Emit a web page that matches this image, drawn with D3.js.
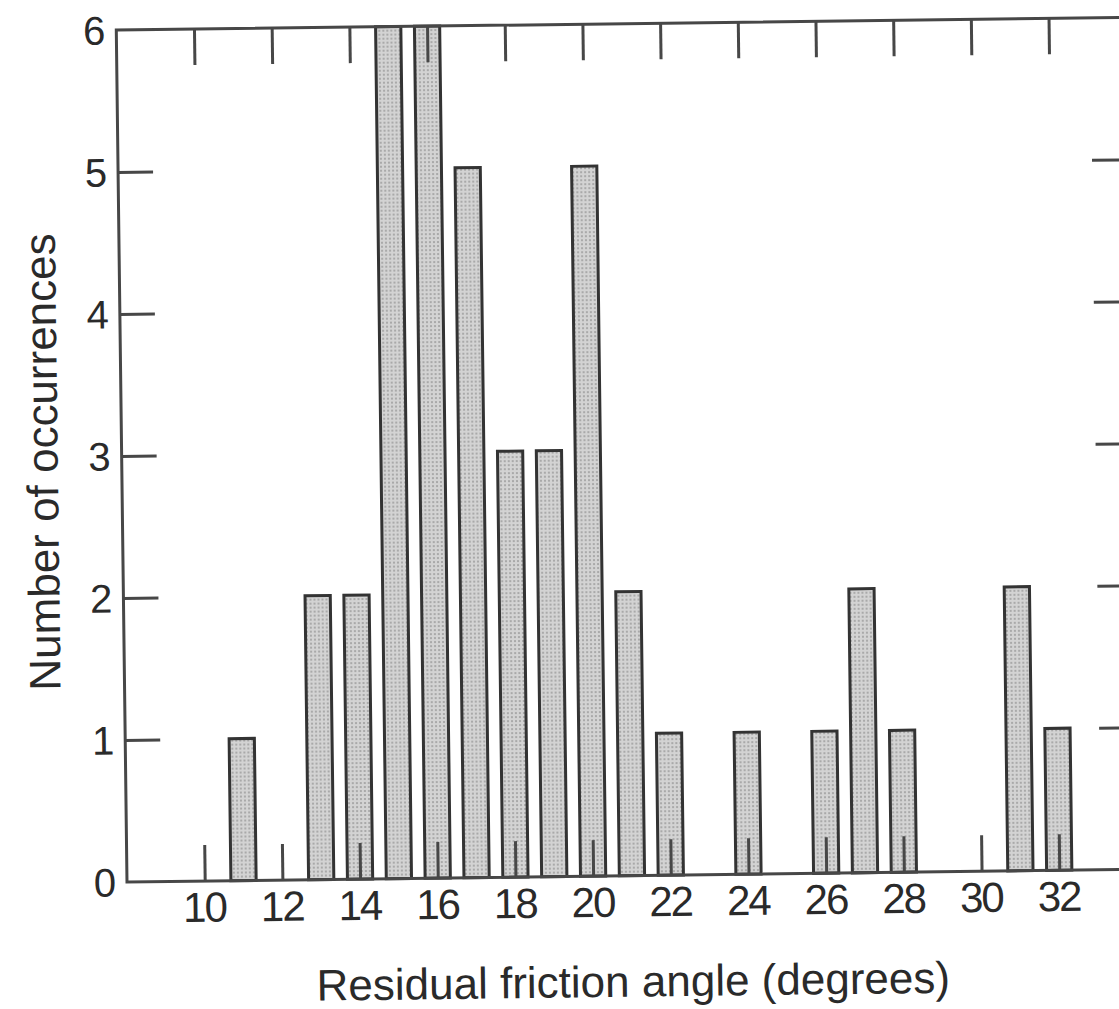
<!DOCTYPE html>
<html>
<head>
<meta charset="utf-8">
<script src="https://cdn.jsdelivr.net/npm/d3@7/dist/d3.min.js"></script>
<style>
  html, body { margin: 0; padding: 0; background: #ffffff; }
  svg { display: block; }
  text { font-family: "Liberation Sans", Arial, Helvetica, sans-serif; fill: #2a2a2a; }
</style>
</head>
<body>
<svg id="chart" width="1119" height="1009"></svg>
<script>
// Histogram of residual friction angles
const angles = [11, 13, 14, 15, 16, 17, 18, 19, 20, 21, 22, 24, 26, 27, 28, 31, 32];
const counts = [1, 2, 2, 6, 6, 5, 3, 3, 5, 2, 1, 1, 1, 2, 1, 2, 1];
const xTickValues = [10, 12, 14, 16, 18, 20, 22, 24, 26, 28, 30, 32];
const yTickValues = [0, 1, 2, 3, 4, 5, 6];
const xTitle = "Residual friction angle (degrees)";
const yTitle = "Number of occurrences";

const bars = angles.map((a, i) => ({ angle: a, count: counts[i] }));

const frame = { left: 127, right: 1137, top: 30, bottom: 882 };
const x = d3.scaleLinear().domain([8, 34]).range([frame.left, frame.right]);
const y = d3.scaleLinear().domain([0, 6]).range([frame.bottom, frame.top]);

const lineColor = "#474747";
const svg = d3.select("#chart");

// stippled grey fill for the bars
const defs = svg.append("defs");
const pat = defs.append("pattern")
  .attr("id", "stipple")
  .attr("patternUnits", "userSpaceOnUse")
  .attr("width", 4).attr("height", 4);
pat.append("rect").attr("width", 4).attr("height", 4).attr("fill", "#d3d3d3");
pat.append("rect").attr("x", 1).attr("y", 1).attr("width", 2).attr("height", 2).attr("fill", "#a9a9a9");

svg.append("rect").attr("width", 1119).attr("height", 1009).attr("fill", "#ffffff");

// the whole figure sits slightly tilted on the page
const g = svg.append("g")
  .attr("transform", `rotate(-0.72, ${frame.left}, ${frame.bottom})`);

// bars
const barW = x(8.65) - x(8);
g.append("g").selectAll("rect")
  .data(bars)
  .join("rect")
  .attr("x", d => x(d.angle) - barW / 2)
  .attr("y", d => y(d.count))
  .attr("width", barW)
  .attr("height", d => y(0) - y(d.count))
  .attr("fill", "url(#stipple)")
  .attr("stroke", "#333333")
  .attr("stroke-width", 3);

// axes with inward ticks on all four sides
const tickLen = 36;
const styleAxis = sel => {
  sel.select(".domain").remove();
  sel.selectAll(".tick line").attr("stroke", lineColor).attr("stroke-width", 3);
};

const bottomAxis = g.append("g")
  .attr("transform", `translate(0,${frame.bottom})`)
  .call(d3.axisBottom(x).tickValues(xTickValues).tickSize(-tickLen).tickPadding(11).tickFormat(d3.format("d")))
  .call(styleAxis);
bottomAxis.selectAll("text")
  .attr("font-size", 42)
  .attr("dx", "-1px")
  .style("letter-spacing", "-2px");

g.append("g")
  .attr("transform", `translate(0,${frame.top})`)
  .call(d3.axisTop(x).tickValues(xTickValues).tickSize(-tickLen).tickFormat(""))
  .call(styleAxis);

g.append("g")
  .attr("transform", `translate(${frame.left},0)`)
  .call(d3.axisLeft(y).tickValues(yTickValues.filter(v => v > 0 && v < 6)).tickSize(-tickLen + 1).tickFormat(""))
  .call(styleAxis);

// y tick labels
g.append("g").selectAll("text")
  .data(yTickValues)
  .join("text")
  .attr("x", frame.left - 11)
  .attr("y", d => y(d))
  .attr("dy", "0.36em")
  .attr("text-anchor", "end")
  .attr("font-size", 40)
  .text(d => d);

g.append("g")
  .attr("transform", `translate(${frame.right},0)`)
  .call(d3.axisRight(y).tickValues(yTickValues.filter(v => v > 0 && v < 6)).tickSize(-tickLen).tickFormat(""))
  .call(styleAxis);

// frame
g.append("rect")
  .attr("x", frame.left).attr("y", frame.top)
  .attr("width", frame.right - frame.left)
  .attr("height", frame.bottom - frame.top)
  .attr("fill", "none")
  .attr("stroke", lineColor)
  .attr("stroke-width", 3);

// axis titles
g.append("text")
  .attr("x", 632)
  .attr("y", 1003)
  .attr("text-anchor", "middle")
  .attr("font-size", 44)
  .text(xTitle);

g.append("text")
  .attr("transform", `translate(63, ${(frame.top + frame.bottom) / 2 + 5}) rotate(-90)`)
  .attr("text-anchor", "middle")
  .attr("font-size", 44)
  .text(yTitle);
</script>
</body>
</html>
